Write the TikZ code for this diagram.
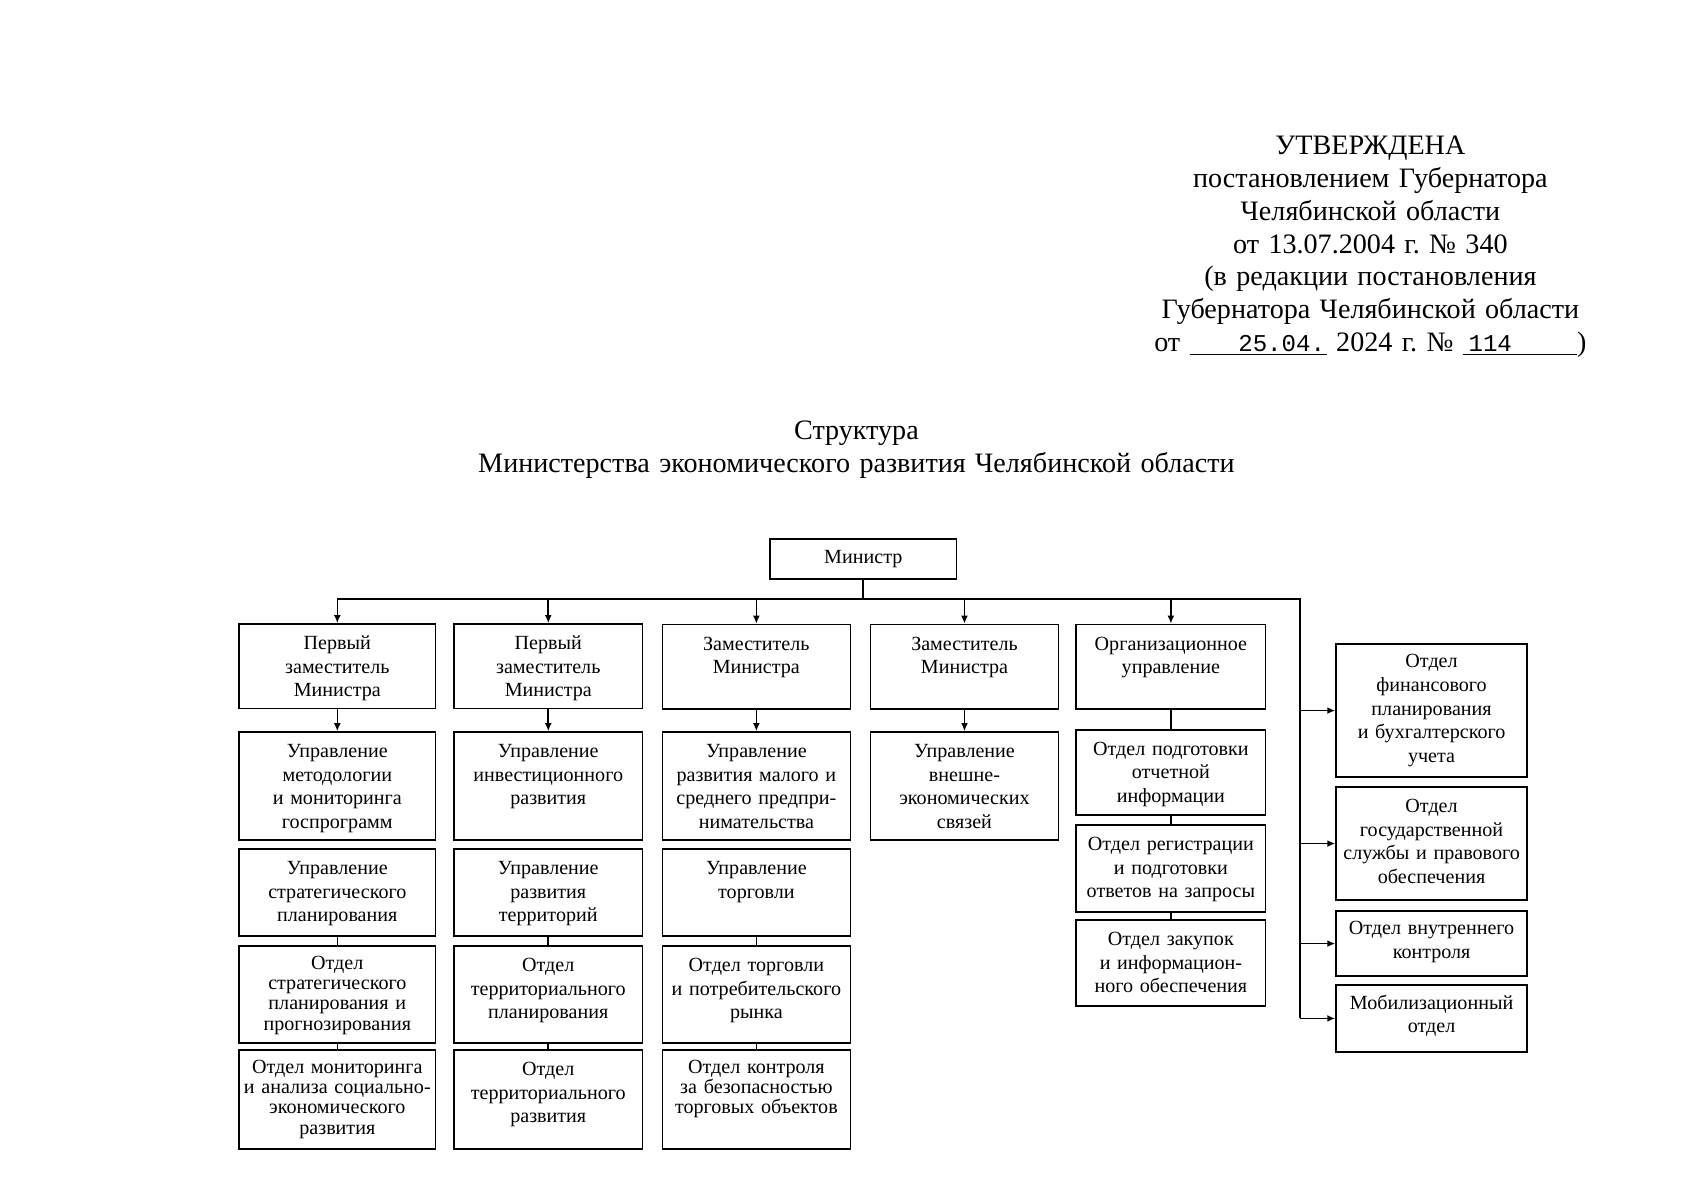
\documentclass[tikz,border=0pt]{standalone}
\usepackage{fontspec}
\setmainfont{Liberation Serif}
\setmonofont{Liberation Mono}
\usetikzlibrary{arrows.meta,positioning,calc}
\frenchspacing

\begin{document}
\begin{tikzpicture}[x=1mm,y=-1mm,>={Latex[length=1.4mm,width=1.2mm]},
  unit/.style={draw,line width=0.8pt,anchor=north,inner xsep=0.5mm,inner ysep=0pt,align=center,
    font=\fontsize{10}{11.7}\selectfont,text height=4.5mm,text width=31.9mm},
  wideunit/.style={unit,text width=33.3mm},
  sideunit/.style={unit,text width=32.4mm},
  tight/.style={font=\fontsize{10}{10.1}\selectfont,text height=4.1mm},
  link/.style={line width=0.8pt}]
\useasboundingbox (0,0) rectangle (297,210);

% heading
\node[anchor=base,text width=80mm,align=center,font=\fontsize{14}{16.3}\selectfont] (approved) at (239.7,27.1)
  {УТВЕРЖДЕНА\\постановлением Губернатора\\Челябинской области\\от 13.07.2004 г. № 340\\(в редакции постановления\\Губернатора Челябинской области\\от \underline{\makebox[24mm][r]{\fontsize{12}{12}\ttfamily 25.04.\hspace{0.3mm}}} 2024 г. № \underline{\makebox[20mm][l]{\hspace{1mm}\fontsize{12}{12}\ttfamily 114}})};
\node[anchor=base,text width=160mm,align=center,font=\fontsize{14}{16.4}\selectfont] (title) at (149.8,76.8)
  {Структура\\Министерства экономического развития Челябинской области};

% minister
\node[draw,line width=0.8pt,anchor=north,minimum width=32.6mm,minimum height=7mm,inner sep=0pt,font=\fontsize{10}{12}\selectfont] (min) at (151.0,94.1) {Министр};
\coordinate (busL) at (59.0,104.8);
\coordinate (busR) at (227.4,104.8);

% deputies
\node[wideunit,text depth=10.3mm] (d1) at (59.0,109.0) {Первый\\заместитель\\Министра};
\node[unit,text depth=10.3mm] (d2) at (95.9,109.0) {Первый\\заместитель\\Министра};
\node[unit,text depth=10.3mm] (d3) at (132.3,109.1) {Заместитель\\Министра};
\node[unit,text depth=10.3mm] (d4) at (168.7,109.1) {Заместитель\\Министра};
\node[unit,text width=32.1mm,text depth=10.3mm] (d5) at (204.8,109.1) {Организационное\\управление};

% column 1
\node[wideunit,text depth=14.4mm] (u11) at (59.0,127.9) {Управление\\методологии\\и мониторинга\\госпрограмм};
\node[wideunit,text depth=10.7mm] (u12) at (59.0,148.4) {Управление\\стратегического\\планирования};
\node[wideunit,tight,text depth=12.9mm] (s1) at (59.0,165.3) {Отдел\\стратегического\\планирования и\\прогнозирования};
\node[wideunit,tight,text depth=13.2mm] (m1) at (59.0,183.5) {Отдел мониторинга\\и анализа социально-\\экономического\\развития};

% column 2
\node[unit,text depth=14.4mm] (u21) at (95.9,127.9) {Управление\\инвестиционного\\развития};
\node[unit,text depth=10.7mm] (u22) at (95.9,148.4) {Управление\\развития\\территорий};
\node[unit,text depth=12.5mm] (s2) at (95.9,165.3) {Отдел\\территориального\\планирования};
\node[unit,text depth=12.8mm] (m2) at (95.9,183.5) {Отдел\\территориального\\развития};

% column 3
\node[unit,text depth=14.4mm] (u31) at (132.3,127.9) {Управление\\развития малого и\\среднего предпри-\\нимательства};
\node[unit,text depth=10.7mm] (u32) at (132.3,148.4) {Управление\\торговли};
\node[unit,text depth=12.5mm] (s3) at (132.3,165.3) {Отдел торговли\\и потребительского\\рынка};
\node[unit,tight,text depth=13.2mm] (m3) at (132.3,183.5) {Отдел контроля\\за безопасностью\\торговых объектов};

% column 4
\node[unit,text depth=14.4mm] (u41) at (168.7,127.9) {Управление\\внешне-\\экономических\\связей};

% column 5
\node[unit,text width=32.1mm,text depth=10.4mm] (o1) at (204.8,127.5) {Отдел подготовки\\отчетной\\информации};
\node[unit,text width=32.1mm,text depth=10.7mm] (o2) at (204.8,144.2) {Отдел регистрации\\и подготовки\\ответов на запросы};
\node[unit,text width=32.1mm,text depth=10.5mm] (o3) at (204.8,160.8) {Отдел закупок\\и информацион-\\ного обеспечения};

% side column
\node[sideunit,text height=4.2mm,text depth=19.1mm] (r1) at (250.4,112.5) {Отдел\\финансового\\планирования\\и бухгалтерского\\учета};
\node[sideunit,text depth=15.3mm] (r2) at (250.4,137.5) {Отдел\\государственной\\службы и правового\\обеспечения};
\node[sideunit,text height=4.2mm,text depth=7.2mm] (r3) at (250.4,159.2) {Отдел внутреннего\\контроля};
\node[sideunit,text height=4.3mm,text depth=7.5mm] (r4) at (250.4,172.1) {Мобилизационный\\отдел};

% connectors
\draw[link] (min.south) -- (min.south |- busL);
\draw[link] (busL) -- (busR) -- (busR |- r4.west);
\foreach \d in {d1,d2,d3,d4,d5}
  \draw[link,->] (\d.north |- busL) -- (\d.north);
\foreach \r in {r1,r2,r3,r4}
  \draw[link,->] (busR |- \r.west) -- (\r.west);
\foreach \a/\b in {d1/u11,d2/u21,d3/u31,d4/u41}
  \draw[link,->] (\a) -- (\b);
\foreach \a/\b in {d5/o1,o1/o2,o2/o3,u12/s1,s1/m1,u22/s2,s2/m2,u32/s3,s3/m3}
  \draw[link] (\a) -- (\b);
\end{tikzpicture}
\end{document}
